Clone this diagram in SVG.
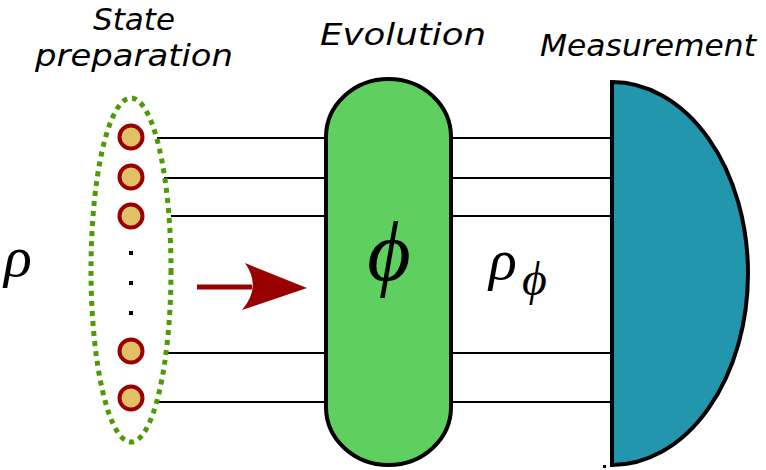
<svg xmlns="http://www.w3.org/2000/svg" width="766" height="470" viewBox="0 0 766 470">
<style>
.label{font-family:"DejaVu Sans","Liberation Sans",sans-serif;font-style:italic;font-weight:200;font-size:31px;fill:#000}
.math{font-family:"Liberation Serif","DejaVu Serif",serif;font-style:italic;fill:#000}
.wire{stroke:#000;stroke-width:2;fill:none}
.qubit{fill:#e2c068;stroke:#9b0000;stroke-width:4}
.dot{fill:#000}
</style>
<rect width="766" height="470" fill="#fff"/>
<g id="connectors">
<line class="wire" x1="157" y1="138" x2="612" y2="138"/>
<line class="wire" x1="164" y1="178" x2="612" y2="178"/>
<line class="wire" x1="171" y1="216" x2="612" y2="216"/>
<line class="wire" x1="167" y1="353" x2="612" y2="353"/>
<line class="wire" x1="157" y1="402" x2="612" y2="402"/>
<g id="arrow">
<line x1="197" y1="287" x2="252" y2="287" stroke="#990000" stroke-width="5"/>
<path d="M307,288 L245,263 Q262,287 242,310 Z" fill="#990000"/>
</g>
</g>
<g id="state-preparation">
<ellipse cx="131" cy="270" rx="40" ry="172" fill="none" stroke="#4e9a06" stroke-width="5" stroke-dasharray="5 5"/>
<circle class="qubit" cx="131" cy="137" r="11.5"/>
<circle class="qubit" cx="131" cy="177" r="11.5"/>
<circle class="qubit" cx="131" cy="216" r="11.5"/>
<circle class="qubit" cx="131" cy="351" r="11.5"/>
<circle class="qubit" cx="131" cy="398" r="11.5"/>
<rect class="dot" x="129" y="251" width="4" height="4"/>
<rect class="dot" x="129" y="281" width="4" height="4"/>
<rect class="dot" x="129" y="311" width="4" height="4"/>
<text class="label" x="134" y="30" text-anchor="middle" textLength="82" lengthAdjust="spacingAndGlyphs">State</text>
<text class="label" x="134" y="66" text-anchor="middle" textLength="198" lengthAdjust="spacingAndGlyphs">preparation</text>
</g>
<g id="rho">
<text class="math" x="4" y="276" font-size="58">ρ</text>
</g>
<g id="evolution">
<path d="M326,137 A62.5,58 0 0 1 451,137 L451,407 A62.5,58 0 0 1 326,407 Z" fill="#5fcf5f" stroke="#000" stroke-width="4"/>
<text class="math" x="389" y="280" font-size="84" text-anchor="middle">ϕ</text>
<text class="label" x="403" y="45" text-anchor="middle" textLength="166" lengthAdjust="spacingAndGlyphs">Evolution</text>
</g>
<g id="rho-phi">
<text class="math" x="489" y="279" font-size="58">ρ</text>
<text class="math" x="522" y="295" font-size="48">ϕ</text>
</g>
<g id="measurement">
<path d="M612,82 A136,191.5 0 0 1 612,465 Z" fill="#2196ad" stroke="#000" stroke-width="4" stroke-linejoin="miter"/>
<rect x="603" y="465" width="3" height="3" fill="#000"/>
<text class="label" x="648" y="56" text-anchor="middle" textLength="216" lengthAdjust="spacingAndGlyphs">Measurement</text>
</g>
</svg>
